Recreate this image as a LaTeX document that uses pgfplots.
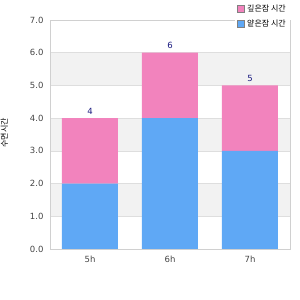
\documentclass[border=0pt]{standalone}
\usepackage{fontspec}
\setmainfont{DejaVu Sans}
\newfontfamily\kr{Noto Sans CJK KR}
\usepackage{pgfplots}
\pgfplotsset{compat=1.18}
\definecolor{barblue}{HTML}{5FA8F5}
\definecolor{barpink}{HTML}{F283BD}
\definecolor{band}{HTML}{F2F2F2}
\definecolor{gridc}{HTML}{DEDEDE}
\definecolor{axc}{HTML}{D0D0D0}
\definecolor{tickc}{HTML}{444444}
\definecolor{navy}{HTML}{1A1A80}
\begin{document}
\begin{tikzpicture}[x=1pt,y=1pt]
\useasboundingbox (0,0) rectangle (300,300);
\pgfmathsetmacro{\u}{229/7}
\foreach \k in {1,3,5} {
  \fill[band] (50,{51+\k*\u}) rectangle (290,{51+(\k+1)*\u});
}
\begin{axis}[
  at={(50pt,51pt)}, anchor=south west,
  scale only axis, width=240pt, height=229pt,
  xmin=-0.5, xmax=2.5, ymin=0, ymax=7,
  ybar stacked, bar width=56pt,
  xtick={0,1,2}, xticklabels={5h,6h,7h},
  ytick={0,1,2,3,4,5,6,7},
  y tick label style={/pgf/number format/fixed, /pgf/number format/fixed zerofill, /pgf/number format/precision=1, xshift=-3pt},
  /pgf/number format/assume math mode=true,
  major tick length=0pt,
  ymajorgrids, grid style={color=gridc, line width=0.6pt},
  axis line style={color=axc, line width=0.8pt},
  tick label style={font=\fontsize{8.5}{10}\selectfont, text=tickc},
  xticklabel style={yshift=-4pt},
  ylabel={\kr 수면시간},
  ylabel style={at={(axis description cs:-0.19,0.507)}, anchor=center, font=\fontsize{8}{10}\selectfont, text=black},
  legend style={at={(axis description cs:1.0,1.085)}, anchor=north east, draw=none, fill=white,
    font=\kr\fontsize{8}{10}\selectfont, row sep=3pt, cells={anchor=west}, inner sep=2pt},
  reverse legend,
  legend image code/.code={\draw[#1, draw=gray, line width=0.8pt] (-8pt,-3.5pt) rectangle (-1pt,3.5pt);},
]
\addplot[fill=barblue, draw=none] coordinates {(0,2) (1,4) (2,3)};
\addlegendentry{얕은잠 시간}
\addplot[fill=barpink, draw=none,
  nodes near coords, point meta=explicit,
  every node near coord/.style={font=\fontsize{8.5}{9}\selectfont, text=navy, anchor=south, yshift=33pt}]
  coordinates {(0,2) [4] (1,2) [6] (2,2) [5]};
\addlegendentry{깊은잠 시간}
\end{axis}
\end{tikzpicture}
\end{document}
